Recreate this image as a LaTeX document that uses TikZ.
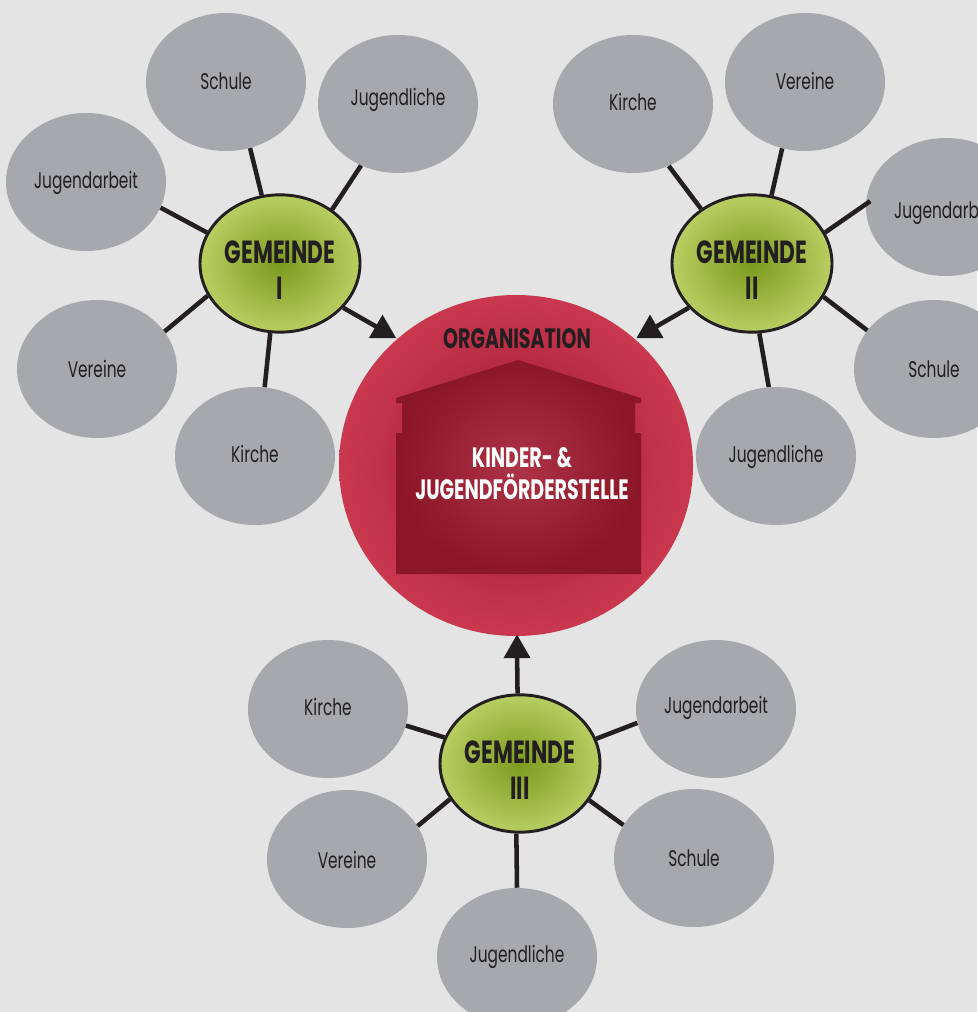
\documentclass[tikz,border=0pt]{standalone}
\usepackage{fontspec}
\setmainfont[FakeStretch=0.68]{Poppins}
\usetikzlibrary{shapes.geometric}
\definecolor{bggray}{HTML}{E4E4E4}
\definecolor{bubblegray}{HTML}{A7A8AB}
\definecolor{inkdark}{HTML}{231F20}
\definecolor{limein}{RGB}{124,154,30}
\definecolor{limeout}{RGB}{199,218,114}
\definecolor{discin}{RGB}{143,26,46}
\definecolor{discmid}{RGB}{192,48,72}
\definecolor{discring}{RGB}{201,56,78}
\definecolor{discout}{RGB}{182,38,63}
\definecolor{housein}{RGB}{172,52,70}
\definecolor{housemid}{RGB}{158,38,56}
\definecolor{houseout}{RGB}{138,22,40}
\pgfdeclareradialshading{limefade}{\pgfpointorigin}{color(0bp)=(limein);color(31bp)=(limeout);color(50bp)=(limeout)}
\pgfdeclareradialshading{discfade}{\pgfpointorigin}{color(0bp)=(discin);color(19bp)=(discmid);color(25bp)=(discring);color(33bp)=(discout);color(50bp)=(discout)}
\pgfdeclareradialshading{housefade}{\pgfpointorigin}{color(0bp)=(housein);color(11bp)=(housemid);color(25bp)=(houseout);color(50bp)=(houseout)}
\newcommand\lift[2]{\raisebox{#1pt}{#2}}
\tikzset{
    x=0.75pt,y=-0.75pt,
    topic/.style={ellipse,fill=bubblegray,minimum width=120pt,minimum height=103.5pt,inner sep=0pt,
        text height=13pt,text depth=1pt,
        text=inkdark,font=\fontsize{17}{19}\selectfont},
    parish/.style={ellipse,draw=inkdark,line width=2.2pt,minimum width=120pt,minimum height=103pt,inner sep=0pt,
        align=center,text=inkdark,font=\fontsize{24}{27}\selectfont\bfseries,shading=limefade},
    link/.style={draw=inkdark,line width=3.4pt},
    wedge/.style={regular polygon,regular polygon sides=3,fill=inkdark,minimum size=23.4pt,inner sep=0pt,outer sep=0pt}
}
\begin{document}
\begin{tikzpicture}
    \useasboundingbox[fill=bggray](0,0) rectangle (977,1012);
    % centre
    \node (org) at (516,465.5) [ellipse,minimum width=265.5pt,minimum height=255.75pt,inner sep=0pt,shading=discfade] {};
    \shade[shading=housefade]
        (396,574)--(396,433)--(402,433)--(402,403)--(396,403)--(396,398)--(518,360)--(641,398)--(641,403)--(635,403)--(635,433)--(641,433)--(641,574)--cycle;
    \node (orgtitle) at (517,339) [text=inkdark,font=\fontsize{21}{23}\selectfont\bfseries] {ORGANISATION};
    \node (kjf) at (522,474) [align=center,text=white,font=\fontsize{21}{24}\selectfont\bfseries] {KINDER- \&\\JUGENDFÖRDERSTELLE};
    % parishes
    \node (g1) at (280,263.5) [parish] {\rule{0pt}{27pt}GEMEINDE\\I};
    \node (g2) at (752,263.5) [parish] {\rule{0pt}{27pt}GEMEINDE\\II};
    \node (g3) at (520,763.5) [parish] {\rule{0pt}{27pt}GEMEINDE\\III};
    % first group
    \node (a1) at (226,82) [topic] {Schule};
    \node (a2) at (398,104) [topic] {\lift{4.5}{Jugendliche}};
    \node (a3) at (86,182) [topic] {\lift{1}{Jugendarbeit}};
    \node (a4) at (97,369) [topic] {Vereine};
    \node (a5) at (255,456) [topic] {\lift{1}{Kirche}};
    % second group
    \node (b1) at (633,104) [topic] {\lift{1}{Kirche}};
    \node (b2) at (805,82) [topic] {Vereine};
    \node (b3) at (946,207) [topic] {\lift{-3}{Jugendarbeit}};
    \node (b4) at (934,369) [topic] {Schule};
    \node (b5) at (776,456) [topic] {\lift{1.5}{Jugendliche}};
    % third group
    \node (c1) at (328,709) [topic] {\lift{1}{Kirche}};
    \node (c2) at (716,709) [topic] {\lift{3}{Jugendarbeit}};
    \node (c3) at (347,859) [topic] {\lift{-1}{Vereine}};
    \node (c4) at (694,858) [topic] {Schule};
    \node (c5) at (517,957) [topic] {\lift{2}{Jugendliche}};
    \foreach \from/\fromangle/\to/\toangle in {
        g1/105.8/a1/290, g1/46/a2/239.5, g1/157.7/a3/341.6, g1/204.3/a4/29.2, g1/262.6/a5/82.6,
        g2/133.3/b1/300.5, g2/74.2/b2/251.6, g2/335.7/b4/150.4, g2/276.6/b5/96.6,
        g3/161.3/c1/348, g3/18/c2/190.9, g3/207.9/c3/25.6, g3/332.4/c4/155.7, g3/267.6/c5/90}
        \draw[link](\from.\fromangle)--(\to.\toangle);
    \draw[link,shorten >=-4pt](g2.23)--(b3.178.5);
    % arrows
    \node (tip1) at (382.5,330.2) [wedge] {};
    \node (tip2) at (650,330.2) [wedge] {};
    \node (tip3) at (517,650.2) [wedge] {};
    \draw[link](g1.325.3)--(tip1.center);
    \draw[link](g2.215.4)--(tip2.center);
    \draw[link](g3.92.5)--(tip3.center);
\end{tikzpicture}
\end{document}
